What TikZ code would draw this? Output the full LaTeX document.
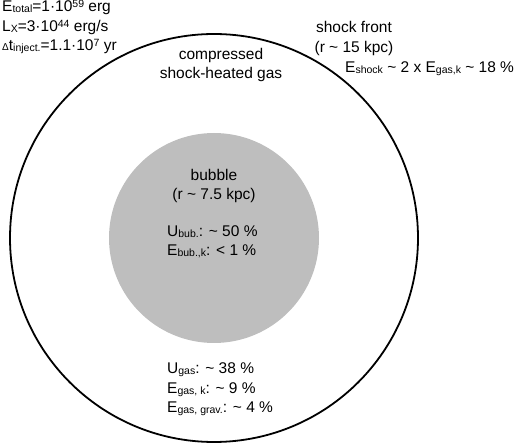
\documentclass[tikz,border=0pt]{standalone}
\usepackage{fontspec}
\setmainfont{Liberation Sans}
\usetikzlibrary{positioning}
\definecolor{bubblegray}{RGB}{190,190,190}
\newcommand{\lowtxt}[1]{\raisebox{-1pt}{\fontsize{10.5}{10.5}\selectfont #1}}
\newcommand{\hightxt}[1]{\raisebox{4pt}{\fontsize{10.5}{10.5}\selectfont #1}}
\newcommand{\apx}{\textasciitilde}

\begin{document}
\begin{tikzpicture}[x=1pt, y=-1pt, font=\fontsize{15.5}{19.5}\selectfont,
    lbl/.style={inner sep=0pt, align=left, anchor=base west},
    ctr/.style={inner sep=0pt, align=center, anchor=base}]
        \useasboundingbox (0,0) rectangle (520,446);
        % shock front and bubble
        \node[circle, draw, line width=1.8pt, minimum size=408pt, inner sep=0pt]
              (shock) at (214,238) {};
        \node[circle, fill=bubblegray, minimum size=210pt, inner sep=0pt]
              (bubble) at (214,238) {};
        % labels (anchored at the baseline of the last line)
        \node[lbl] (energy) at (2,51)
              {E\lowtxt{total}=1\textperiodcentered10\hightxt{59} erg\\
               L\lowtxt{X}=3\textperiodcentered10\hightxt{44} erg/s\\
               {\fontsize{10}{10}\selectfont Δ}t\lowtxt{inject.}=1.1\textperiodcentered10\hightxt{7} yr};
        \node[ctr] (gaslabel) at (221,79) {compressed\\shock-heated gas};
        \node[ctr] (frontlabel) at (354,52.5) {shock front\\(r \apx{} 15 kpc)};
        \node[lbl] (shockenergy) at (345,73)
              {E\lowtxt{shock} \apx{} 2 x E\lowtxt{gas,k} \apx{} 18 \%};
        \node[ctr] (bubblelabel) at (214,200) {bubble\\(r \apx{} 7.5 kpc)};
        \node[lbl] (bubbleenergy) at (167,256)
              {U\lowtxt{bub.}: \apx{} 50 \%\\ E\lowtxt{bub.,k}: < 1 \%};
        \node[lbl] (gasenergy) at (167,413)
              {U\lowtxt{gas}: \apx{} 38 \%\\ E\lowtxt{gas, k}: \apx{} 9 \%\\
               E\lowtxt{gas, grav.}: \apx{} 4 \%};
\end{tikzpicture}
\end{document}
